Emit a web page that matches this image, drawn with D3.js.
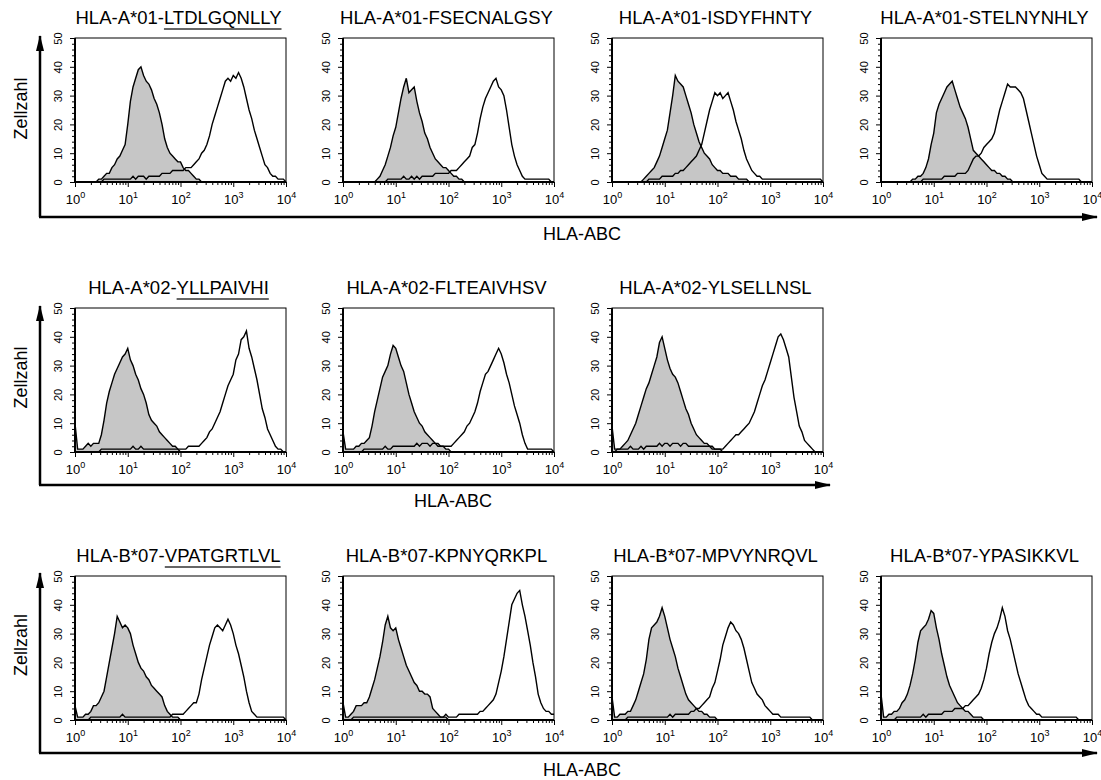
<!DOCTYPE html>
<html>
<head>
<meta charset="utf-8">
<script src="https://cdn.jsdelivr.net/npm/d3@7"></script>
<style>
  body { margin: 0; background: #fff; }
  svg { display: block; font-family: "Liberation Sans", Arial, Helvetica, sans-serif; }
</style>
</head>
<body>
<div class="chart"></div>
<script>
/*** DATA ***/
// panel titles: allele + peptide, underlined peptides are the reference ones
const alleles = ['HLA-A*01', 'HLA-A*01', 'HLA-A*01', 'HLA-A*01',
                 'HLA-A*02', 'HLA-A*02', 'HLA-A*02',
                 'HLA-B*07', 'HLA-B*07', 'HLA-B*07', 'HLA-B*07'];
const peptides = ['LTDLGQNLLY', 'FSECNALGSY', 'ISDYFHNTY', 'STELNYNHLY',
                  'YLLPAIVHI', 'FLTEAIVHSV', 'YLSELLNSL',
                  'VPATGRTLVL', 'KPNYQRKPL', 'MPVYNRQVL', 'YPASIKKVL'];
const underlined = [true, false, false, false, true, false, false, true, false, false, false];
const panelRow = [0, 0, 0, 0, 1, 1, 1, 2, 2, 2, 2];
const panelCol = [0, 1, 2, 3, 0, 1, 2, 0, 1, 2, 3];

const yTicks = [0, 10, 20, 30, 40, 50];
const yMinorTicks = [2, 4, 6, 8, 12, 14, 16, 18, 22, 24, 26, 28, 32, 34, 36, 38, 42, 44, 46, 48];
const xTicks = [1, 10, 100, 1000, 10000];
const xTickExp = ['0', '1', '2', '3', '4'];

const yLabel = 'Zellzahl';
const xLabel = 'HLA-ABC';

// histogram channels: 81 bins, 20 per decade from 10^0 to 10^4
const channels = d3.range(81).map(i => Math.pow(10, i / 20));

// grey filled histograms (control), cell counts per channel
const controlCounts = [
  [0,0,0,0,0,0,0,0,0,1, 1,2,3,3,5,6,8,9,11,13, 20,28,33,36,39,40,37,35,34,32, 29,27,24,20,15,12,10,9,8,7, 7,5,4,4,3,2,1,1,0,0, 0,0,0,0,0,0,0,0,0,0, 0,0,0,0,0,0,0,0,0,0, 0,0,0,0,0,0,0,0,0,0,0],
  [0,0,0,0,0,0,0,0,0,0, 0,0,0,1,2,4,6,9,12,16, 19,24,29,33,36,31,32,33,28,24, 21,17,15,12,10,8,7,6,5,5, 4,3,2,2,1,1,0,0,0,0, 0,0,0,0,0,0,0,0,0,0, 0,0,0,0,0,0,0,0,0,0, 0,0,0,0,0,0,0,0,0,0,0],
  [0,0,0,0,0,0,0,0,0,0, 0,0,1,2,3,4,5,7,9,12, 15,18,24,30,37,35,34,33,30,27, 24,20,17,14,12,10,9,8,6,5, 4,4,3,3,3,2,2,2,1,1, 1,1,0,0,0,0,0,0,0,0, 0,0,0,0,0,0,0,0,0,0, 0,0,0,0,0,0,0,0,0,0,0],
  [0,0,0,0,0,0,0,0,0,0, 0,0,1,1,2,2,3,5,8,13, 17,24,27,29,31,33,34,35,32,29, 26,24,22,19,15,11,10,9,8,7, 6,5,4,4,3,3,2,2,1,1, 0,0,0,0,0,0,0,0,0,0, 0,0,0,0,0,0,0,0,0,0, 0,0,0,0,0,0,0,0,0,0,0],
  [10,1,1,1,2,3,2,3,3,3, 6,11,17,21,24,27,29,31,33,34, 36,32,30,27,25,22,20,17,13,11, 10,9,7,6,5,4,3,2,2,1, 0,0,0,0,0,0,0,0,0,0, 0,0,0,0,0,0,0,0,0,0, 0,0,0,0,0,0,0,0,0,0, 0,0,0,0,0,0,0,0,0,0,0],
  [7,1,1,1,1,2,2,3,3,4, 5,9,14,18,22,26,28,30,34,37, 36,33,30,28,24,20,17,14,12,10, 9,7,6,5,4,3,3,2,2,1, 1,0,0,0,0,0,0,0,0,0, 0,0,0,0,0,0,0,0,0,0, 0,0,0,0,0,0,0,0,0,0, 0,0,0,0,0,0,0,0,0,0,0],
  [9,1,1,1,2,3,4,6,8,10, 13,16,19,22,24,27,30,33,38,40, 36,32,29,27,26,24,21,18,15,13, 10,8,6,5,4,3,3,2,2,1, 1,1,0,0,0,0,0,0,0,0, 0,0,0,0,0,0,0,0,0,0, 0,0,0,0,0,0,0,0,0,0, 0,0,0,0,0,0,0,0,0,0,0],
  [5,1,1,1,2,2,3,5,5,6, 8,10,15,20,25,30,36,34,32,33, 32,30,26,23,20,18,17,15,14,12, 11,10,9,8,5,3,2,1,1,1, 0,0,0,0,0,0,0,0,0,0, 0,0,0,0,0,0,0,0,0,0, 0,0,0,0,0,0,0,0,0,0, 0,0,0,0,0,0,0,0,0,0,0],
  [6,1,1,2,3,5,5,5,6,6, 8,11,14,18,22,27,33,36,32,31, 32,28,25,22,19,17,15,13,12,10, 10,9,9,8,4,3,2,1,1,1, 0,0,0,0,0,0,0,0,0,0, 0,0,0,0,0,0,0,0,0,0, 0,0,0,0,0,0,0,0,0,0, 0,0,0,0,0,0,0,0,0,0,0],
  [8,1,1,2,2,2,3,3,5,7, 10,13,16,21,28,32,33,34,36,39, 36,32,28,25,22,18,15,12,9,7, 6,5,4,3,3,2,2,1,1,1, 0,0,0,0,0,0,0,0,0,0, 0,0,0,0,0,0,0,0,0,0, 0,0,0,0,0,0,0,0,0,0, 0,0,0,0,0,0,0,0,0,0,0],
  [9,1,1,2,2,3,3,4,6,7, 9,12,16,21,27,31,32,33,35,38, 37,32,28,23,19,15,12,10,8,6, 5,4,3,3,2,1,1,1,1,0, 0,0,0,0,0,0,0,0,0,0, 0,0,0,0,0,0,0,0,0,0, 0,0,0,0,0,0,0,0,0,0, 0,0,0,0,0,0,0,0,0,0,0]
];

// open histograms (HLA-ABC stained), cell counts per channel
const hlaCounts = [
  [0,0,0,0,0,0,0,0,0,0, 0,1,1,1,1,1,1,1,1,1, 1,1,2,1,2,2,2,1,2,2, 2,2,2,3,3,3,3,4,4,4, 4,4,5,5,5,6,7,8,10,11, 13,16,20,23,26,29,32,35,36,35, 37,36,38,36,33,29,25,22,18,15, 12,9,6,5,3,2,2,1,1,1,0],
  [0,0,0,0,0,0,0,0,0,0, 0,0,0,0,0,0,0,1,1,1, 1,1,1,2,1,1,2,1,2,1, 2,2,2,2,2,3,3,3,3,3, 3,4,4,4,5,6,7,8,9,12, 13,17,22,26,29,31,33,35,36,33, 32,30,25,19,13,9,6,4,2,1, 1,1,1,1,1,1,1,1,1,0,0],
  [0,0,0,0,0,0,0,0,0,0, 0,0,0,0,1,1,1,1,1,2, 2,2,2,2,3,3,4,4,5,6, 7,8,9,11,13,17,21,25,28,31, 30,31,29,30,31,28,25,21,18,15, 11,8,6,4,3,2,2,1,1,1, 1,1,1,1,1,1,1,1,1,1, 1,1,1,1,1,1,1,1,1,1,0],
  [0,0,0,0,0,0,0,0,0,0, 0,0,0,0,0,0,1,1,1,1, 1,1,1,1,2,2,2,2,2,3, 3,3,3,4,6,8,9,9,10,12, 13,14,15,17,21,25,28,31,34,33, 33,33,32,31,29,25,21,17,13,9, 6,3,2,1,1,1,1,1,1,1, 1,1,1,1,1,1,0,0,0,0,0],
  [0,0,0,0,0,0,0,0,0,0, 1,1,1,1,1,1,1,1,1,1, 1,1,2,1,1,2,1,1,1,1, 1,1,1,1,1,1,1,1,1,1, 1,1,1,2,2,2,2,2,3,4, 5,7,8,10,12,14,17,20,23,25, 27,32,34,39,40,42,36,33,29,25, 20,15,12,8,6,4,2,1,1,0,0],
  [0,0,0,0,0,0,0,0,1,1, 1,1,1,1,1,1,2,1,1,2, 2,2,2,2,2,2,2,2,3,2, 3,3,3,2,3,3,2,2,2,2, 2,2,3,4,5,6,7,9,10,12, 14,17,21,24,27,28,30,32,34,36, 34,31,27,24,20,16,13,10,6,3, 1,1,1,1,1,1,1,1,1,1,0],
  [0,0,1,1,1,1,1,2,1,1, 1,2,1,2,2,2,2,2,3,2, 3,3,2,3,3,3,2,3,3,2, 2,2,2,2,2,2,2,2,1,1, 1,1,1,2,3,4,5,6,6,7, 8,9,10,12,14,17,20,23,25,28, 31,34,37,40,41,39,36,33,26,19, 14,9,7,4,3,2,1,0,0,0,0],
  [0,0,0,0,0,0,1,1,1,1, 1,1,1,1,1,1,1,1,2,1, 1,1,1,1,1,1,1,1,1,1, 1,1,1,1,1,1,1,2,2,2, 2,2,3,4,5,6,6,9,14,18, 22,26,29,32,33,32,31,33,35,33, 30,26,23,19,15,10,6,3,2,1, 1,1,1,1,1,1,1,1,1,1,0],
  [0,0,0,0,1,1,1,1,1,1, 1,1,1,1,1,1,1,1,1,1, 1,1,1,1,1,1,1,1,1,1, 1,1,1,1,1,1,1,1,1,2, 1,1,1,1,2,2,2,2,2,2, 2,2,3,3,4,5,6,7,9,13, 17,22,28,34,40,42,44,45,40,36, 31,26,20,15,9,6,4,3,3,2,2],
  [0,0,0,0,0,0,1,1,1,1, 1,1,1,1,1,1,1,1,1,1, 1,1,2,1,2,2,2,2,2,2, 3,3,4,4,5,6,7,8,11,13, 17,21,26,29,32,34,33,31,30,28, 25,21,17,13,11,9,8,7,5,4, 3,2,2,2,1,1,1,1,1,1, 1,1,1,1,1,1,0,0,0,0,0],
  [0,0,0,0,0,0,1,1,1,1, 1,1,1,1,1,1,2,1,2,2, 2,2,2,2,3,3,3,3,4,4, 4,4,5,5,6,7,8,9,11,14, 18,23,27,30,32,35,39,36,31,28, 24,20,16,13,10,7,5,4,3,2, 2,1,1,1,1,1,1,1,1,1, 1,1,1,1,1,0,0,0,0,0,0]
];

/*** LAYOUT ***/
const width = 1101, height = 780;
const colX = [75, 343, 612, 881];
const rowTop = [38, 308, 576];
const boxW = 211, boxH = 144;

// big arrow axes per row
const rowAxes = [
  { top: 36, base: 217, end: 1097, labelX: 582, labelY: 240 },
  { top: 306, base: 485, end: 830, labelX: 453, labelY: 507 },
  { top: 573, base: 753, end: 1097, labelX: 582, labelY: 776 }
];

const svg = d3.select('.chart')
  .append('svg')
  .attr('width', width)
  .attr('height', height);

const defs = svg.append('defs');
defs.append('marker')
  .attr('id', 'arrow')
  .attr('viewBox', '0 0 16 8')
  .attr('refX', 15)
  .attr('refY', 4)
  .attr('markerWidth', 16)
  .attr('markerHeight', 8)
  .attr('markerUnits', 'userSpaceOnUse')
  .attr('orient', 'auto')
  .append('path')
  .attr('d', 'M0,0 L16,4 L0,8 Z')
  .attr('fill', '#000');

/*** BIG AXES ***/
rowAxes.forEach(r => {
  const g = svg.append('g');
  // vertical (Zellzahl)
  g.append('line')
    .attr('x1', 40).attr('x2', 40)
    .attr('y1', r.base).attr('y2', r.top)
    .attr('stroke', '#000')
    .attr('stroke-width', 2.5)
    .attr('marker-end', 'url(#arrow)');
  // horizontal (HLA-ABC)
  g.append('line')
    .attr('x1', 39).attr('x2', r.end)
    .attr('y1', r.base).attr('y2', r.base)
    .attr('stroke', '#000')
    .attr('stroke-width', 2.5)
    .attr('marker-end', 'url(#arrow)');

  g.append('text')
    .attr('transform', `translate(27, ${(r.top + r.base) / 2 - 18}) rotate(-90)`)
    .attr('text-anchor', 'middle')
    .style('font-size', '18px')
    .text(yLabel);

  g.append('text')
    .attr('x', r.labelX)
    .attr('y', r.labelY)
    .attr('text-anchor', 'middle')
    .style('font-size', '18px')
    .text(xLabel);
});

/*** PANELS ***/
const x = d3.scaleLog().domain([1, 10000]).range([0, boxW]);
const y = d3.scaleLinear().domain([0, 50]).range([boxH, 0]);

const xMinor = [];
xTicks.slice(0, -1).forEach(t => {
  for (let k = 2; k < 10; k++) xMinor.push(t * k);
});

const area = d3.area()
  .x((d, i) => x(channels[i]))
  .y0(boxH)
  .y1(d => y(d));

const line = d3.line()
  .x((d, i) => x(channels[i]))
  .y(d => y(d));

peptides.forEach((pep, p) => {
  const px = colX[panelCol[p]], py = rowTop[panelRow[p]];
  const g = svg.append('g').attr('transform', `translate(${px}, ${py})`);

  g.append('rect')
    .attr('width', boxW)
    .attr('height', boxH)
    .attr('fill', '#fff')
    .attr('stroke', '#000')
    .attr('stroke-width', 1);

  // control (grey fill)
  g.append('path')
    .datum(controlCounts[p])
    .attr('d', area)
    .attr('fill', '#c6c6c6');
  g.append('path')
    .datum(controlCounts[p])
    .attr('d', line)
    .attr('fill', 'none')
    .attr('stroke', '#000')
    .attr('stroke-width', 1.4);

  // HLA-ABC (open)
  g.append('path')
    .datum(hlaCounts[p])
    .attr('d', line)
    .attr('fill', 'none')
    .attr('stroke', '#000')
    .attr('stroke-width', 1.4);

  // axes
  g.append('line')
    .attr('x1', 0).attr('x2', 0).attr('y1', 0).attr('y2', boxH + 1)
    .attr('stroke', '#000').attr('stroke-width', 2);
  g.append('line')
    .attr('x1', -1).attr('x2', boxW).attr('y1', boxH).attr('y2', boxH)
    .attr('stroke', '#000').attr('stroke-width', 2);

  const yAxis = g.append('g')
    .call(d3.axisLeft(y).tickValues(yTicks).tickSize(5).tickSizeOuter(0).tickFormat(d3.format('d')))
    .call(a => a.select('.domain').remove());
  yAxis.selectAll('text')
    .attr('transform', 'rotate(-90)')
    .attr('x', 0)
    .attr('y', -13)
    .attr('dy', 0)
    .attr('text-anchor', 'middle')
    .style('font-size', '11px')
    .style('font-family', '"Liberation Sans Narrow", "Liberation Sans", Arial, sans-serif');
  g.append('g')
    .call(d3.axisLeft(y).tickValues(yMinorTicks).tickSize(3).tickSizeOuter(0).tickFormat(''))
    .call(a => a.select('.domain').remove());

  const xAxis = g.append('g')
    .attr('transform', `translate(0, ${boxH})`)
    .call(d3.axisBottom(x).tickValues(xTicks).tickSize(5).tickSizeOuter(0).tickFormat(''))
    .call(a => a.select('.domain').remove());
  g.append('g')
    .attr('transform', `translate(0, ${boxH})`)
    .call(d3.axisBottom(x).tickValues(xMinor).tickSize(3).tickSizeOuter(0).tickFormat(''))
    .call(a => a.select('.domain').remove());

  const lbl = xAxis.selectAll('.tick')
    .append('text')
    .attr('y', 22)
    .attr('fill', '#000')
    .attr('text-anchor', 'middle')
    .style('font-size', '13px');
  lbl.append('tspan').text('10');
  lbl.append('tspan')
    .attr('dy', -6)
    .style('font-size', '9px')
    .text((d, i) => xTickExp[i]);

  // title
  const title = g.append('text')
    .attr('x', boxW / 2 - 2)
    .attr('y', -14)
    .attr('text-anchor', 'middle')
    .style('font-size', '18.5px');
  title.append('tspan').text(alleles[p] + '-');
  title.append('tspan').text(pep);

  if (underlined[p]) {
    const node = title.node();
    const start = alleles[p].length + 1;
    const x0 = node.getStartPositionOfChar(start).x;
    const x1 = node.getEndPositionOfChar(start + pep.length - 1).x;
    g.append('line')
      .attr('x1', x0).attr('x2', x1)
      .attr('y1', -9).attr('y2', -9)
      .attr('stroke', '#333')
      .attr('stroke-width', 1.5);
  }
});
</script>
</body>
</html>
